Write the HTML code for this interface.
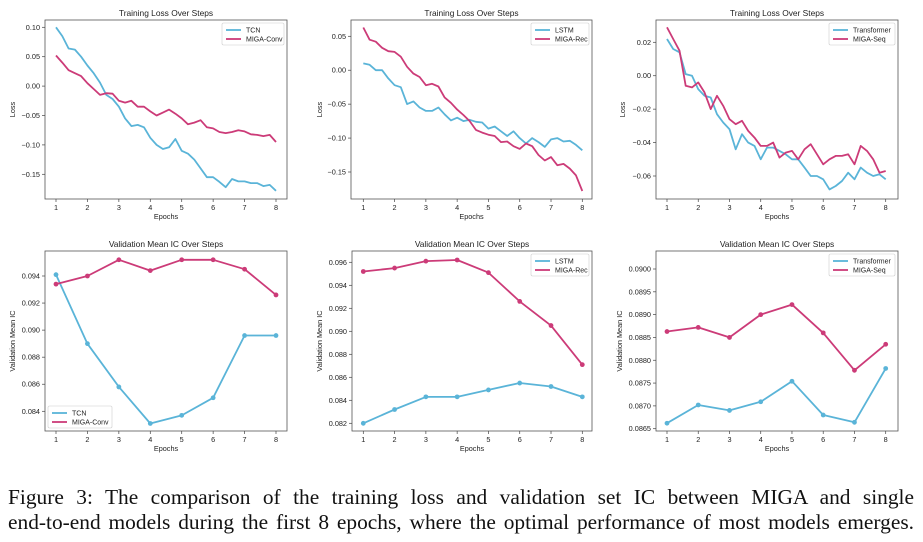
<!DOCTYPE html>
<html><head><meta charset="utf-8"><style>
body{margin:0;background:#fff;width:923px;height:542px;overflow:hidden;position:relative}
svg{position:absolute;left:0;top:0}
.cap{position:absolute;left:8px;width:906px;font-family:"Liberation Serif",serif;font-size:21.4px;line-height:25px;color:#111;text-align:justify;text-align-last:justify;top:485px;white-space:nowrap}
.cap div{text-align:justify;text-align-last:justify;white-space:normal}
</style></head><body>
<svg id="fig" width="923" height="470" font-family="Liberation Sans, DejaVu Sans, sans-serif"></svg>
<div class="cap"><div>Figure 3: The comparison of the training loss and validation set IC between MIGA and single</div><div>end-to-end models during the first 8 epochs, where the optimal performance of most models emerges.</div></div>
<script>
const epochs=[1,2,3,4,5,6,7,8];
const stepX=[];for(let i=0;i<36;i++)stepX.push(1+0.2*i);
const tcnLoss=[0.100,0.085,0.064,0.062,0.050,0.035,0.022,0.006,-0.015,-0.022,-0.035,-0.055,-0.068,-0.066,-0.070,-0.088,-0.100,-0.107,-0.104,-0.090,-0.110,-0.115,-0.125,-0.140,-0.155,-0.155,-0.163,-0.172,-0.158,-0.162,-0.162,-0.165,-0.165,-0.170,-0.168,-0.178];
const migaConvLoss=[0.052,0.040,0.027,0.022,0.017,0.005,-0.005,-0.015,-0.012,-0.013,-0.025,-0.028,-0.025,-0.035,-0.035,-0.043,-0.050,-0.045,-0.040,-0.047,-0.055,-0.065,-0.062,-0.058,-0.070,-0.072,-0.078,-0.080,-0.078,-0.075,-0.077,-0.082,-0.083,-0.085,-0.083,-0.095];
const lstmLoss=[0.010,0.008,0.000,0.000,-0.012,-0.022,-0.025,-0.050,-0.046,-0.055,-0.060,-0.060,-0.055,-0.065,-0.074,-0.070,-0.075,-0.073,-0.076,-0.077,-0.086,-0.083,-0.090,-0.097,-0.090,-0.100,-0.108,-0.100,-0.106,-0.113,-0.102,-0.100,-0.105,-0.104,-0.110,-0.118];
const migaRecLoss=[0.063,0.045,0.042,0.033,0.028,0.027,0.020,0.005,-0.005,-0.010,-0.022,-0.020,-0.024,-0.040,-0.048,-0.058,-0.066,-0.075,-0.088,-0.092,-0.095,-0.097,-0.106,-0.105,-0.112,-0.116,-0.108,-0.112,-0.125,-0.133,-0.128,-0.140,-0.138,-0.145,-0.155,-0.178];
const transLoss=[0.022,0.016,0.014,0.001,0.000,-0.008,-0.012,-0.013,-0.023,-0.028,-0.032,-0.044,-0.035,-0.040,-0.042,-0.050,-0.043,-0.043,-0.045,-0.047,-0.050,-0.050,-0.055,-0.060,-0.060,-0.062,-0.068,-0.066,-0.063,-0.058,-0.062,-0.055,-0.058,-0.060,-0.059,-0.062];
const migaSeqLoss=[0.029,0.022,0.015,-0.006,-0.007,-0.004,-0.010,-0.020,-0.012,-0.018,-0.026,-0.029,-0.027,-0.033,-0.037,-0.042,-0.042,-0.040,-0.049,-0.046,-0.045,-0.050,-0.044,-0.041,-0.047,-0.053,-0.050,-0.048,-0.048,-0.047,-0.053,-0.042,-0.045,-0.050,-0.058,-0.057];
const tcnIC=[0.0941,0.0890,0.0858,0.0831,0.0837,0.0850,0.0896,0.0896];
const migaConvIC=[0.0934,0.0940,0.0952,0.0944,0.0952,0.0952,0.0945,0.0926];
const lstmIC=[0.0820,0.0832,0.0843,0.0843,0.0849,0.0855,0.0852,0.0843];
const migaRecIC=[0.0952,0.0955,0.0961,0.0962,0.0951,0.0926,0.0905,0.0871];
const transIC=[0.08662,0.08702,0.08690,0.08709,0.08754,0.08680,0.08664,0.08782];
const migaSeqIC=[0.08863,0.08872,0.08850,0.08900,0.08922,0.08860,0.08778,0.08835];
const ticks1=[0.10,0.05,0.00,-0.05,-0.10,-0.15];
const ticks2=[0.05,0.00,-0.05,-0.10,-0.15];
const ticks3=[0.02,0.00,-0.02,-0.04,-0.06];
const ticks4=[0.094,0.092,0.090,0.088,0.086,0.084];
const ticks5=[0.096,0.094,0.092,0.090,0.088,0.086,0.084,0.082];
const ticks6=[0.0900,0.0895,0.0890,0.0885,0.0880,0.0875,0.0870,0.0865];

const NS="http://www.w3.org/2000/svg";
const svg=document.getElementById('fig');
const BLUE="#5ab4d8",PINK="#cc3b78";
function mk(tag,attrs,parent){const e=document.createElementNS(NS,tag);for(const k in attrs)e.setAttribute(k,attrs[k]);(parent||svg).appendChild(e);return e;}
function fmt(v,d){return (v<0?"\u2212":"")+Math.abs(v).toFixed(d);}

function panel(p){
  const g=mk('g',{});
  
  
  const xs=v=>p.x1+(v-1)*(p.x8-p.x1)/7;
  const ys=v=>p.ya+(v-p.va)*(p.yb-p.ya)/(p.vb-p.va);
  const fr=mk('rect',{x:p.L,y:p.T,width:p.R-p.L,height:p.B-p.T,fill:'none',stroke:'#555','stroke-width':0.8},g);
  
  
  const t=mk('text',{x:(p.L+p.R)/2,y:p.T-4,'text-anchor':'middle','font-size':8.4,fill:'#222'},g);t.textContent=p.title;
  
  
  epochs.forEach(e=>{
    const x=xs(e);
    mk('line',{x1:x,x2:x,y1:p.B,y2:p.B+3,stroke:'#444','stroke-width':0.7},g);
    const tl=mk('text',{x:x,y:p.B+11,'text-anchor':'middle','font-size':7.3,fill:'#222'},g);tl.textContent=e;
    
    
  });
  p.ticks.forEach(v=>{
    const y=ys(v);
    mk('line',{x1:p.L-3,x2:p.L,y1:y,y2:y,stroke:'#444','stroke-width':0.7},g);
    const tl=mk('text',{x:p.L-5,y:y+2.5,'text-anchor':'end','font-size':7.3,fill:'#222'},g);tl.textContent=fmt(v,p.dec);
    
    
  });
  const xl=mk('text',{x:(p.L+p.R)/2,y:p.B+20,'text-anchor':'middle','font-size':7.3,fill:'#222'},g);xl.textContent='Epochs';
  
  
  const yl=mk('text',{x:0,y:0,'text-anchor':'middle','font-size':7.3,fill:'#222',transform:`translate(${p.ylx},${(p.T+p.B)/2}) rotate(-90)`},g);yl.textContent=p.ylabel;
  
  
  p.series.forEach(s=>{
    const pts=s.y.map((v,i)=>xs(s.x[i]).toFixed(1)+','+ys(v).toFixed(1)).join(' ');
    const pl=mk('polyline',{points:pts,fill:'none',stroke:s.c,'stroke-width':1.8,'stroke-linejoin':'round'},g);
    
    
    if(p.markers){s.y.forEach((v,i)=>{
      const c=mk('circle',{cx:xs(s.x[i]),cy:ys(v),r:2.4,fill:s.c},g);
      
      
    });}
  });
  const lw=p.legW,lx=p.legLeft?p.L+3:p.R-3-lw,ly=p.legLeft?p.B-25:p.T+3;
  const lg=mk('g',{},g);
  
  
  mk('rect',{x:lx,y:ly,width:lw,height:22,fill:'#fff',stroke:'#ccc','stroke-width':0.6,rx:1.5},lg);
  p.series.forEach((s,i)=>{
    const yy=ly+7+i*9;
    mk('line',{x1:lx+4,x2:lx+19,y1:yy,y2:yy,stroke:s.c,'stroke-width':1.8},lg);
    const tx=mk('text',{x:lx+24,y:yy+2.5,'font-size':7,fill:'#222'},lg);tx.textContent=s.label;
    
    
  });
}
const topT=20,topB=199,botT=251,botB=431;
panel({name:'tcn-loss-chart',title:'Training Loss Over Steps',L:45,R:287,T:topT,B:topB,x1:56,x8:276,va:0.10,ya:27.3,vb:-0.15,yb:174.3,ticks:ticks1,dec:2,ylabel:'Loss',ylx:15,legW:62,
 series:[{key:'tcn',label:'TCN',c:BLUE,x:stepX,y:tcnLoss},{key:'miga-conv',label:'MIGA-Conv',c:PINK,x:stepX,y:migaConvLoss}]});
panel({name:'lstm-loss-chart',title:'Training Loss Over Steps',L:351,R:592,T:topT,B:topB,x1:363.3,x8:582.3,va:0.05,ya:36.3,vb:-0.15,yb:172,ticks:ticks2,dec:2,ylabel:'Loss',ylx:322,legW:58,
 series:[{key:'lstm',label:'LSTM',c:BLUE,x:stepX,y:lstmLoss},{key:'miga-rec',label:'MIGA-Rec',c:PINK,x:stepX,y:migaRecLoss}]});
panel({name:'transformer-loss-chart',title:'Training Loss Over Steps',L:656,R:898,T:topT,B:topB,x1:667,x8:885.7,va:0.02,ya:42.3,vb:-0.06,yb:176,ticks:ticks3,dec:2,ylabel:'Loss',ylx:625,legW:66,
 series:[{key:'transformer',label:'Transformer',c:BLUE,x:stepX,y:transLoss},{key:'miga-seq',label:'MIGA-Seq',c:PINK,x:stepX,y:migaSeqLoss}]});
panel({name:'tcn-ic-chart',title:'Validation Mean IC Over Steps',L:45,R:287,T:botT,B:botB,x1:56,x8:276,va:0.094,ya:276,vb:0.084,yb:411.3,ticks:ticks4,dec:3,ylabel:'Validation Mean IC',ylx:15,legW:64,legLeft:true,markers:true,
 series:[{key:'tcn',label:'TCN',c:BLUE,x:epochs,y:tcnIC},{key:'miga-conv',label:'MIGA-Conv',c:PINK,x:epochs,y:migaConvIC}]});
panel({name:'lstm-ic-chart',title:'Validation Mean IC Over Steps',L:352,R:592,T:botT,B:botB,x1:363.3,x8:582.3,va:0.096,ya:262.3,vb:0.082,yb:423.3,ticks:ticks5,dec:3,ylabel:'Validation Mean IC',ylx:322,legW:58,markers:true,
 series:[{key:'lstm',label:'LSTM',c:BLUE,x:epochs,y:lstmIC},{key:'miga-rec',label:'MIGA-Rec',c:PINK,x:epochs,y:migaRecIC}]});
panel({name:'transformer-ic-chart',title:'Validation Mean IC Over Steps',L:656,R:898,T:botT,B:botB,x1:667,x8:885.7,va:0.0900,ya:269,vb:0.0865,yb:428.7,ticks:ticks6,dec:4,ylabel:'Validation Mean IC',ylx:622,legW:66,markers:true,
 series:[{key:'transformer',label:'Transformer',c:BLUE,x:epochs,y:transIC},{key:'miga-seq',label:'MIGA-Seq',c:PINK,x:epochs,y:migaSeqIC}]});
</script>
</body></html>
